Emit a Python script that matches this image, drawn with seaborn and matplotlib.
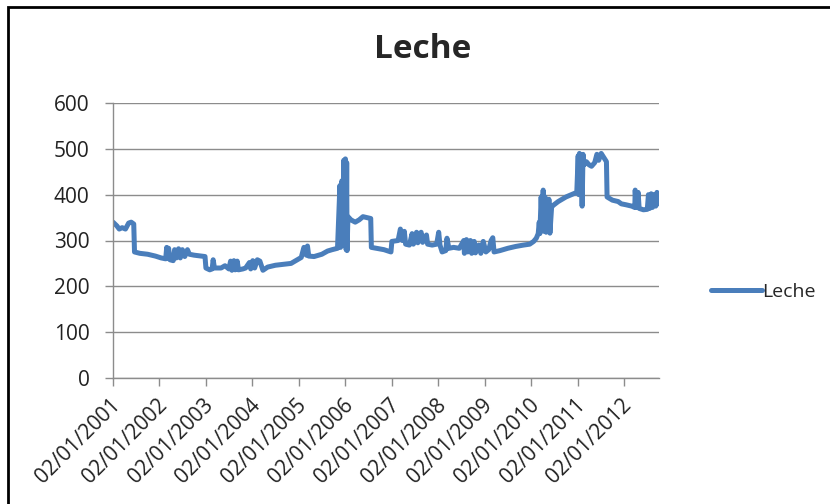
import pandas as pd
import seaborn as sns
import matplotlib.pyplot as plt
from matplotlib.patches import Rectangle
from matplotlib.transforms import ScaledTranslation

dates = [
    "2001-01-02", "2001-02-01", "2001-02-20", "2001-03-15", "2001-04-10", "2001-05-05", "2001-05-25", "2001-06-14",
    "2001-06-20", "2001-08-01", "2001-10-01", "2001-12-01", "2002-01-15", "2002-02-20", "2002-02-28", "2002-03-05",
    "2002-03-15", "2002-03-25", "2002-04-20", "2002-05-01", "2002-05-15", "2002-06-01", "2002-06-15", "2002-07-01",
    "2002-07-20", "2002-08-10", "2002-08-25", "2002-10-01", "2002-12-26", "2003-01-02", "2003-02-01", "2003-02-20",
    "2003-02-28", "2003-03-10", "2003-05-01", "2003-06-01", "2003-07-01", "2003-07-15", "2003-07-25", "2003-08-10",
    "2003-08-20", "2003-09-05", "2003-09-15", "2003-10-20", "2003-11-10", "2003-12-10", "2003-12-20", "2004-01-05",
    "2004-01-20", "2004-02-10", "2004-03-01", "2004-03-25", "2004-05-01", "2004-07-01", "2004-09-01", "2004-11-01",
    "2004-12-20", "2005-01-20", "2005-02-10", "2005-03-01", "2005-03-10", "2005-03-20", "2005-05-01", "2005-07-01",
    "2005-08-15", "2005-09-20", "2005-11-01", "2005-11-20", "2005-11-25", "2005-12-05", "2005-12-10", "2005-12-20",
    "2005-12-25", "2006-01-02", "2006-01-08", "2006-01-12", "2006-01-15", "2006-01-22", "2006-02-15", "2006-03-20",
    "2006-04-20", "2006-05-20", "2006-07-20", "2006-07-25", "2006-09-01", "2006-11-01", "2006-12-26", "2007-01-02",
    "2007-02-20", "2007-03-10", "2007-03-25", "2007-04-10", "2007-04-20", "2007-05-20", "2007-06-10", "2007-06-20",
    "2007-07-15", "2007-07-25", "2007-08-20", "2007-09-01", "2007-10-01", "2007-10-10", "2007-11-15", "2007-12-20",
    "2008-01-05", "2008-01-15", "2008-02-01", "2008-03-01", "2008-03-10", "2008-03-25", "2008-05-01", "2008-06-15",
    "2008-07-20", "2008-07-25", "2008-08-10", "2008-08-20", "2008-09-10", "2008-09-20", "2008-10-10", "2008-10-20",
    "2008-11-15", "2008-12-01", "2008-12-20", "2009-01-10", "2009-02-01", "2009-02-20", "2009-03-05", "2009-03-15",
    "2009-05-01", "2009-07-01", "2009-09-01", "2009-11-01", "2009-12-20", "2010-01-20", "2010-02-10", "2010-02-25",
    "2010-03-05", "2010-03-10", "2010-03-20", "2010-03-28", "2010-04-05", "2010-04-12", "2010-04-20", "2010-04-28",
    "2010-05-05", "2010-05-12", "2010-05-20", "2010-05-28", "2010-06-10", "2010-06-15", "2010-08-01", "2010-10-01",
    "2010-12-01", "2010-12-25", "2011-01-05", "2011-01-10", "2011-01-15", "2011-01-22", "2011-01-28", "2011-02-05",
    "2011-02-12", "2011-02-20", "2011-03-10", "2011-04-01", "2011-04-20", "2011-05-15", "2011-06-01", "2011-06-15",
    "2011-07-05", "2011-08-15", "2011-08-20", "2011-10-01", "2011-11-15", "2011-12-10", "2012-01-15", "2012-03-01",
    "2012-03-25", "2012-03-28", "2012-04-05", "2012-04-20", "2012-04-28", "2012-06-01", "2012-07-01", "2012-07-10",
    "2012-07-20", "2012-08-01", "2012-08-10", "2012-08-25", "2012-09-05", "2012-09-15", "2012-09-25", "2012-10-01",
]
leche = [
    340, 332, 325, 328, 325, 338, 340, 336,
    275, 272, 270, 266, 262, 260, 285, 262,
    283, 258, 256, 280, 262, 282, 262, 280,
    265, 280, 270, 268, 265, 240, 236, 238,
    258, 240, 240, 245, 238, 255, 235, 256,
    236, 255, 236, 238, 240, 252, 238, 256,
    240, 258, 255, 235, 242, 246, 248, 250,
    258, 263, 285, 268, 288, 266, 265, 270,
    277, 280, 283, 420, 285, 430, 290, 475,
    300, 478, 280, 470, 278, 352, 345, 340,
    345, 352, 348, 285, 283, 280, 275, 298,
    300, 325, 300, 320, 292, 290, 315, 292,
    318, 295, 318, 296, 312, 292, 290, 292,
    318, 290, 275, 278, 305, 283, 285, 283,
    300, 272, 302, 275, 300, 272, 298, 273,
    290, 272, 298, 275, 280, 300, 306, 275,
    278, 283, 287, 290, 292, 298, 305, 315,
    340, 315, 395, 330, 410, 320, 395, 318,
    385, 320, 390, 316, 372, 375, 385, 395,
    402, 405, 485, 400, 490, 410, 480, 375,
    488, 465, 472, 465, 462, 470, 488, 475,
    490, 472, 395, 388, 385, 380, 378, 375,
    372, 410, 372, 405, 370, 367, 368, 400,
    370, 402, 372, 400, 375, 405, 380, 400,
]
tick_dates = ["2001-01-02", "2002-01-02", "2003-01-02", "2004-01-02", "2005-01-02", "2006-01-02",
              "2007-01-02", "2008-01-02", "2009-01-02", "2010-01-02", "2011-01-02", "2012-01-02"]
tick_labels = ["02/01/2001", "02/01/2002", "02/01/2003", "02/01/2004", "02/01/2005", "02/01/2006",
               "02/01/2007", "02/01/2008", "02/01/2009", "02/01/2010", "02/01/2011", "02/01/2012"]
y_ticks = [0, 100, 200, 300, 400, 500, 600]

df = pd.DataFrame({"Fecha": pd.to_datetime(dates), "Leche": leche})

sns.set_style("white")
plt.rcParams["font.family"] = ["Open Sans", "DejaVu Sans"]

fig = plt.figure(figsize=(8.3, 5.04), dpi=100)
ax = fig.add_axes([113 / 830, 1 - 378 / 504, (659 - 113) / 830, (378 - 103) / 504])
sns.lineplot(x="Fecha", y="Leche", data=df, ax=ax, color="#4A7EBB", linewidth=3.6, label="Leche")

ax.set_xlim(pd.Timestamp("2001-01-02"), pd.Timestamp("2012-10-01"))
ax.set_ylim(0, 600)
ax.set_yticks(y_ticks)
ax.set_xticks(pd.to_datetime(tick_dates))
ax.set_xticklabels(tick_labels, rotation=45, ha="right", va="top", rotation_mode="anchor")
ax.set_xlabel("")
ax.set_ylabel("")
ax.grid(axis="y", color="#8C8C8C", linewidth=1)
ax.set_axisbelow(True)
for side in ["top", "right"]:
    ax.spines[side].set_visible(False)
for side in ["left", "bottom"]:
    ax.spines[side].set_color("#8C8C8C")
    ax.spines[side].set_linewidth(1)
ax.tick_params(axis="both", which="both", length=6, width=1, color="#8C8C8C",
               labelsize=15, labelcolor="#222222", direction="out")
ax.tick_params(axis="y", pad=11)
ax.tick_params(axis="x", pad=6)
ax.tick_params(left=True, bottom=True)
# slanted date labels sit a touch left of where matplotlib puts them
shift = ScaledTranslation(-3 / 100, 0, fig.dpi_scale_trans)
for lbl in ax.get_xticklabels():
    lbl.set_transform(lbl.get_transform() + shift)

fig.text(423 / 830, 1 - 50 / 504, "Leche", ha="center", va="center", fontsize=24, fontweight="bold")

ax.legend(loc="center left", bbox_to_anchor=(711 / 830, 1 - 292 / 504), bbox_transform=fig.transFigure,
          frameon=False, fontsize=14, handlelength=2.6, handletextpad=0.05, borderpad=0, borderaxespad=0)

fig.patches.append(Rectangle((8 / 830, -0.05), 1.1, 1.05 - 7 / 504, transform=fig.transFigure,
                             fill=False, edgecolor="black", linewidth=2))

plt.savefig("out.png", dpi=100)
